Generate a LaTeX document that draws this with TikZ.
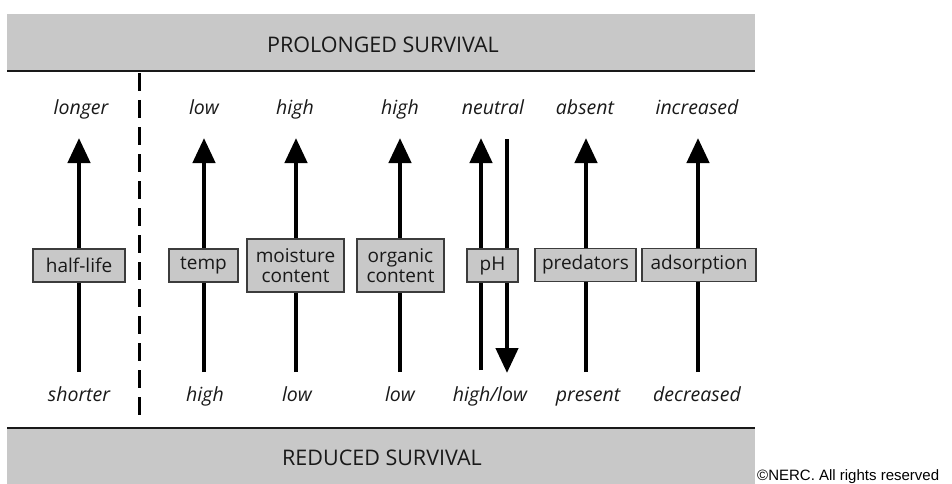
\documentclass[tikz,border=0pt]{standalone}
\usepackage{fontspec}
\setmainfont{Open Sans}
\newfontfamily\crfont{Liberation Sans}
\usetikzlibrary{arrows.meta}
\definecolor{bandgray}{RGB}{200,200,200}
\definecolor{ink}{RGB}{25,25,25}
\definecolor{edge}{RGB}{60,60,60}
\begin{document}
\begin{tikzpicture}[x=1pt,y=-1pt,
  band/.style={fill=bandgray,draw=none},
  rulebar/.style={line width=2.5pt,draw=ink},
  title/.style={font=\fontsize{21.5}{24}\selectfont,text=ink,anchor=base,inner sep=0pt},
  lab/.style={font=\fontsize{19.5}{22}\selectfont\itshape,text=ink,anchor=base,inner sep=0pt},
  fac/.style={draw=edge,line width=1.3pt,fill=bandgray,font=\fontsize{19}{20}\selectfont,text=ink,align=center,inner sep=0pt,minimum height=33pt},
  fac2/.style={fac,minimum height=53pt},
  arr/.style={line width=4.5pt,draw=black,-{Triangle[width=22pt,length=25pt]}},
  divider/.style={line width=3pt,draw=black,dash pattern=on 18pt off 9pt}
]
\useasboundingbox (0,0) rectangle (952,484);
\clip (0,0) rectangle (952,484);

% bands
\fill[band] (7,14) rectangle (755,71);
\draw[rulebar] (7,71) -- (755,71);
\node[title] (prol) at (383,53) {PROLONGED SURVIVAL};
\fill[band] (7,428) rectangle (755,490);
\draw[rulebar] (7,428) -- (755,428);
\node[title] (red) at (382,465) {REDUCED SURVIVAL};

% divider
\coordinate (dtop) at (139,73);
\coordinate (dbot) at (139,418);
\draw[divider] (dtop) -- (dbot);

% top labels
\node[lab] (t1) at (81,114) {longer};
\node[lab] (t2) at (204,114) {low};
\node[lab] (t3) at (295,114) {high};
\node[lab] (t4) at (400,114) {high};
\node[lab] (t5) at (493,114) {neutral};
\node[lab] (t6) at (585,114) {absent};
\node[lab] (t7) at (697,114) {increased};

% bottom labels
\node[lab] (b1) at (79,401) {shorter};
\node[lab] (b2) at (205,401) {high};
\node[lab] (b3) at (297,401) {low};
\node[lab] (b4) at (400,401) {low};
\node[lab] (b5) at (490,401) {high/low};
\node[lab] (b6) at (588,401) {present};
\node[lab] (b7) at (697,401) {decreased};

% arrow end points
\coordinate (a1s) at (79,372);  \coordinate (a1e) at (79,138);
\coordinate (a2s) at (204,372); \coordinate (a2e) at (204,138);
\coordinate (a3s) at (296,372); \coordinate (a3e) at (296,138);
\coordinate (a4s) at (400,372); \coordinate (a4e) at (400,138);
\coordinate (a5s) at (481,370); \coordinate (a5e) at (481,138);
\coordinate (a6s) at (507,139); \coordinate (a6e) at (507,373);
\coordinate (a7s) at (586,372); \coordinate (a7e) at (586,138);
\coordinate (a8s) at (698,372); \coordinate (a8e) at (698,138);
\draw[arr] (a1s) -- (a1e);
\draw[arr] (a2s) -- (a2e);
\draw[arr] (a3s) -- (a3e);
\draw[arr] (a4s) -- (a4e);
\draw[arr] (a5s) -- (a5e);
\draw[arr] (a6s) -- (a6e);
\draw[arr] (a7s) -- (a7e);
\draw[arr] (a8s) -- (a8e);

% factor boxes
\node[fac,minimum width=92pt] (hl) at (79,265.5) {half-life};
\node[fac,minimum width=69pt] (tp) at (203.5,265.5) {temp};
\node[fac2,minimum width=97pt] (mc) at (295.5,265.5) {moisture\\content};
\node[fac2,minimum width=87pt] (oc) at (400.5,265.5) {organic\\content};
\node[fac,minimum width=51pt] (ph) at (492.5,265.5) {pH};
\node[fac,minimum width=101pt] (pr) at (585.5,265) {predators};
\node[fac,minimum width=114pt] (ad) at (699,265) {adsorption};

% copyright
\node[anchor=base west,inner sep=0pt,font=\crfont\fontsize{15}{16}\selectfont,text=black] (cr) at (757,480.5) {©NERC. All rights reserved};
\end{tikzpicture}
\end{document}
